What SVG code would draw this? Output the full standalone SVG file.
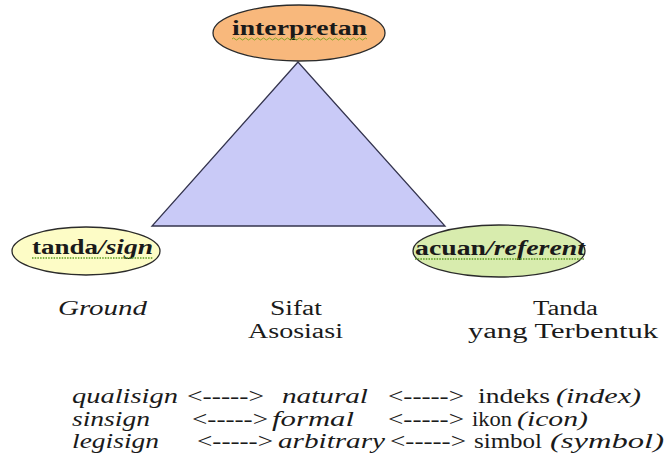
<svg xmlns="http://www.w3.org/2000/svg" width="667" height="456" viewBox="0 0 667 456">
<style>
text{font-family:'Liberation Serif','Tinos','Times New Roman','Times','Nimbus Roman','Nimbus Roman No9 L','FreeSerif','Noto Serif','DejaVu Serif','Georgia',serif;font-size:20px;fill:#1a1a1a}
.b{font-weight:bold}
.i{font-style:italic}
.node{stroke:#2b2b2b;stroke-width:1.3}
.squig{fill:none;stroke:#5a9a20;stroke-width:1.3;stroke-dasharray:1.5 1.2}
</style>
<rect width="667" height="456" fill="#ffffff"/>
<g id="connectors">
<polygon points="298,62 152,226 445,226" fill="#c9caf7" stroke="#34344e" stroke-width="1.3"/>
</g>
<g id="interpretan">
<ellipse class="node" cx="299" cy="33" rx="86" ry="28" fill="#f8b87c"/>
<text class="b" x="232" y="35" textLength="135" lengthAdjust="spacingAndGlyphs">interpretan</text>
<path d="M232 39 q1.5 -2 3 0 t3 0 t3 0 t3 0 t3 0 t3 0 t3 0 t3 0 t3 0 t3 0 t3 0 t3 0 t3 0 t3 0 t3 0 t3 0 t3 0 t3 0 t3 0 t3 0 t3 0 t3 0 t3 0 t3 0 t3 0 t3 0 t3 0 t3 0 t3 0 t3 0 t3 0 t3 0 t3 0 t3 0 t3 0 t3 0 t3 0 t3 0 t3 0 t3 0 t3 0 t3 0 t3 0 t3 0 t3 0" fill="none" stroke="#8aa626" stroke-width="1"/>
</g>
<g id="tanda-sign">
<ellipse class="node" cx="86" cy="251" rx="74" ry="24" fill="#fdfcc6"/>
<text class="b" x="32" y="254" textLength="66" lengthAdjust="spacingAndGlyphs">tanda</text>
<text class="b i" x="98" y="254" textLength="55" lengthAdjust="spacingAndGlyphs">/sign</text>
<line class="squig" x1="32" y1="258" x2="153" y2="258"/>
</g>
<g id="acuan-referent">
<ellipse class="node" cx="499" cy="251" rx="86" ry="26" fill="#d8ecae"/>
<text class="b" x="415" y="255" textLength="71" lengthAdjust="spacingAndGlyphs">acuan</text>
<text class="b i" x="486" y="255" textLength="99" lengthAdjust="spacingAndGlyphs">/referent</text>
<line class="squig" x1="415" y1="259" x2="585" y2="259"/>
</g>
<g id="labels">
<text class="i" x="58" y="315" textLength="89" lengthAdjust="spacingAndGlyphs">Ground</text>
<text x="270" y="315" textLength="52" lengthAdjust="spacingAndGlyphs">Sifat</text>
<text x="248" y="338" textLength="95" lengthAdjust="spacingAndGlyphs">Asosiasi</text>
<text x="533" y="315" textLength="65" lengthAdjust="spacingAndGlyphs">Tanda</text>
<text x="468" y="338" textLength="190" lengthAdjust="spacingAndGlyphs">yang Terbentuk</text>
</g>
<g id="table">
<text class="i" x="72" y="403" textLength="106" lengthAdjust="spacingAndGlyphs">qualisign</text>
<text x="187" y="403" textLength="77" lengthAdjust="spacingAndGlyphs">&lt;-----&gt;</text>
<text class="i" x="282" y="403" textLength="86" lengthAdjust="spacingAndGlyphs">natural</text>
<text x="388" y="403" textLength="76" lengthAdjust="spacingAndGlyphs">&lt;-----&gt;</text>
<text x="478" y="403" textLength="72" lengthAdjust="spacingAndGlyphs">indeks</text>
<text class="i" x="556" y="403" textLength="85" lengthAdjust="spacingAndGlyphs">(index)</text>

<text class="i" x="72" y="426" textLength="78" lengthAdjust="spacingAndGlyphs">sinsign</text>
<text x="192" y="426" textLength="76" lengthAdjust="spacingAndGlyphs">&lt;-----&gt;</text>
<text class="i" x="272" y="426" textLength="82" lengthAdjust="spacingAndGlyphs">formal</text>
<text x="388" y="426" textLength="76" lengthAdjust="spacingAndGlyphs">&lt;-----&gt;</text>
<text x="472" y="426" textLength="40" lengthAdjust="spacingAndGlyphs">ikon</text>
<text class="i" x="517" y="426" textLength="71" lengthAdjust="spacingAndGlyphs">(icon)</text>

<text class="i" x="72" y="448" textLength="87" lengthAdjust="spacingAndGlyphs">legisign</text>
<text x="197" y="448" textLength="76" lengthAdjust="spacingAndGlyphs">&lt;-----&gt;</text>
<text class="i" x="278" y="448" textLength="107" lengthAdjust="spacingAndGlyphs">arbitrary</text>
<text x="390" y="448" textLength="76" lengthAdjust="spacingAndGlyphs">&lt;-----&gt;</text>
<text x="474" y="448" textLength="68" lengthAdjust="spacingAndGlyphs">simbol</text>
<text class="i" x="550" y="448" textLength="114" lengthAdjust="spacingAndGlyphs">(symbol)</text>
</g>
</svg>
